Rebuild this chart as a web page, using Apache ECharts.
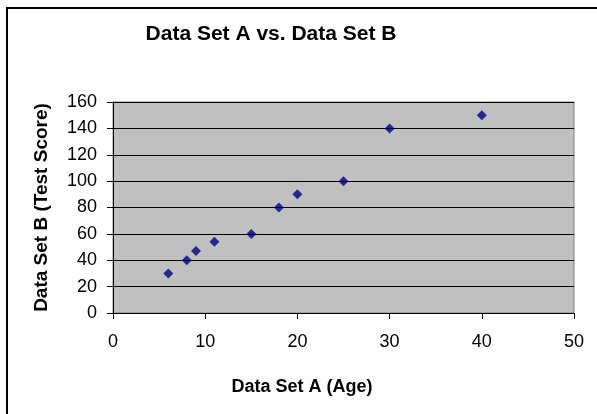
<!DOCTYPE html>
<html lang="en">
<head>
    <meta charset="UTF-8">
    <title>Data Set A vs. Data Set B</title>
    <script src="https://cdn.jsdelivr.net/npm/echarts@6/dist/echarts.min.js"></script>
    <style>
        html, body { margin: 0; padding: 0; background: #fff; }
        #chart { width: 597px; height: 414px; }
    </style>
</head>
<body>
    <div id="chart"></div>
    <script>
        // Data
        var ages = [6, 8, 9, 11, 15, 18, 20, 25, 30, 40];
        var scores = [30, 40, 47, 54, 60, 80, 90, 100, 140, 150];
        var titleText = 'Data Set A vs. Data Set B';
        var xName = 'Data Set A (Age)';
        var yName = 'Data Set B (Test Score)';

        var points = ages.map(function (a, i) { return [a, scores[i]]; });
        var font = 'Liberation Sans, Arial, sans-serif';

        var chart = echarts.init(document.getElementById('chart'));
        chart.setOption({
            animation: false,
            backgroundColor: '#fff',
            title: [{
                text: titleText,
                left: 266,
                top: 19,
                textAlign: 'center',
                textStyle: { fontFamily: font, fontSize: 21, fontWeight: 'bold', color: '#000' }
            }, {
                text: xName,
                left: 297,
                top: 373,
                textAlign: 'center',
                textStyle: { fontFamily: font, fontSize: 18, fontWeight: 'bold', color: '#000' }
            }],
            graphic: [{
                type: 'rect',
                shape: { x: 7, y: 8, width: 700, height: 500 },
                style: { fill: 'none', stroke: '#000', lineWidth: 2 },
                z: 100
            }],
            grid: {
                left: 113, top: 102, right: 23, bottom: 101,
                show: true,
                backgroundColor: '#C0C0C0',
                borderColor: '#808080',
                borderWidth: 1
            },
            xAxis: {
                type: 'value',
                min: 0, max: 50, interval: 10,
                axisLine: { show: true, onZero: false, lineStyle: { color: '#000', width: 1 } },
                axisTick: { show: true, length: 6, lineStyle: { color: '#000' } },
                axisLabel: { margin: 20, fontFamily: font, fontSize: 18, color: '#000' },
                splitLine: { show: false }
            },
            yAxis: {
                type: 'value',
                min: 0, max: 160, interval: 20,
                name: yName,
                nameLocation: 'middle',
                nameGap: 62,
                nameTextStyle: { fontFamily: font, fontSize: 19, fontWeight: 'bold', color: '#000' },
                axisLine: { show: true, onZero: false, lineStyle: { color: '#000', width: 1 } },
                axisTick: { show: true, length: 6, lineStyle: { color: '#000' } },
                axisLabel: { margin: 16, fontFamily: font, fontSize: 18, color: '#000' },
                splitLine: { show: true, lineStyle: { color: '#000', width: 1 } }
            },
            series: [{
                type: 'scatter',
                symbol: 'diamond',
                symbolSize: 10,
                itemStyle: { color: '#000080' },
                data: points
            }]
        });
    </script>
</body>
</html>
